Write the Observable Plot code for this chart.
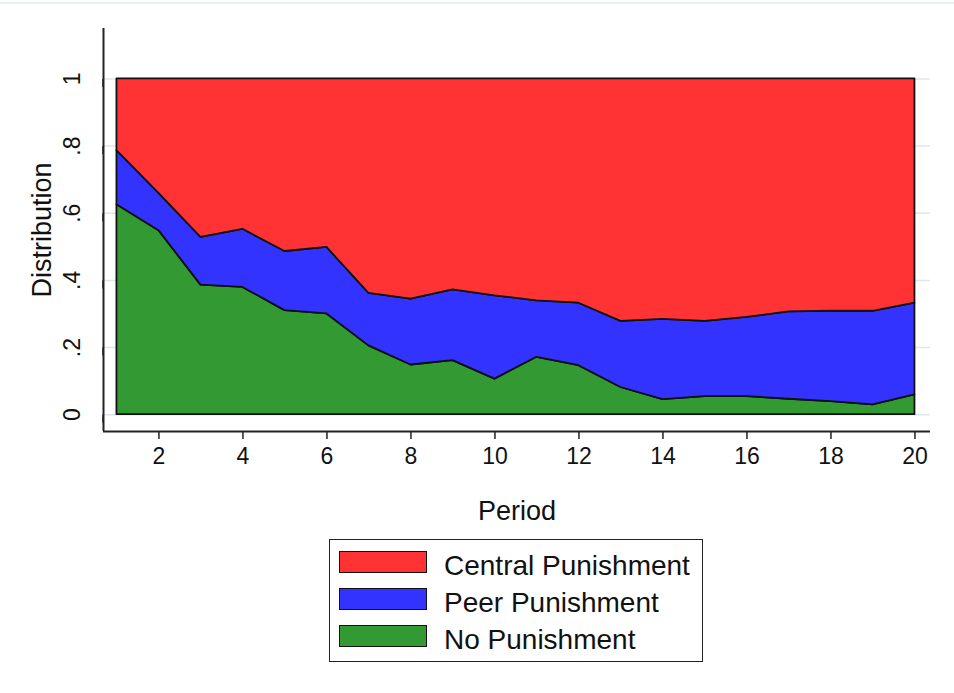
<!DOCTYPE html>
<html>
<head>
<meta charset="utf-8">
<script src="https://cdn.jsdelivr.net/npm/d3@7"></script>
<script src="https://cdn.jsdelivr.net/npm/@observablehq/plot@0.6"></script>
<style>
  body { margin: 0; background: #fff; font-family: "Liberation Sans", Arial, sans-serif; }
  #wrap { position: relative; width: 954px; height: 693px; }
  #topline { position: absolute; left: 0; top: 2px; width: 954px; height: 2px; background: #e9eff4; }
  #chart { position: absolute; left: 0; top: 0; }
  #legend { position: absolute; left: 329px; top: 539px; width: 372px; height: 121px; border: 1.5px solid #222; }
  .sw { position: absolute; left: 9px; width: 86px; height: 20px; border: 1.5px solid #111; }
  .lab { position: absolute; left: 114px; font-size: 28px; color: #111; line-height: 23px; }
</style>
</head>
<body>
<div id="wrap">
  <div id="topline"></div>
  <div id="chart"></div>
  <div id="legend"></div>
</div>
<script>
var periods = [1, 2, 3, 4, 5, 6, 7, 8, 9, 10, 11, 12, 13, 14, 15, 16, 17, 18, 19, 20];
var noPun = [0.625, 0.548, 0.386, 0.379, 0.310, 0.300, 0.205, 0.148, 0.161, 0.106,
             0.171, 0.146, 0.081, 0.045, 0.054, 0.054, 0.046, 0.039, 0.029, 0.059];
var peerPun = [0.161, 0.111, 0.142, 0.173, 0.176, 0.198, 0.156, 0.196, 0.211, 0.248,
               0.168, 0.186, 0.197, 0.239, 0.224, 0.236, 0.260, 0.269, 0.279, 0.273];
var centralPun = [0.214, 0.341, 0.472, 0.448, 0.514, 0.502, 0.639, 0.656, 0.628, 0.646,
                  0.661, 0.668, 0.722, 0.716, 0.722, 0.710, 0.694, 0.692, 0.692, 0.668];

var seriesNames = ["Central Punishment", "Peer Punishment", "No Punishment"];
var seriesColors = ["#ff3333", "#3333ff", "#339933"];
var xTicks = [2, 4, 6, 8, 10, 12, 14, 16, 18, 20];
var yTicks = [0, 0.2, 0.4, 0.6, 0.8, 1];
var yTickLabels = ["0", ".2", ".4", ".6", ".8", "1"];
var xDomain = [0.68, 20.37];
var yDomain = [-0.05, 1.15];

// long table for the stacked areas
var rows = [];
periods.forEach(function (p, i) {
  rows.push({ period: p, series: "No Punishment", value: noPun[i] });
  rows.push({ period: p, series: "Peer Punishment", value: peerPun[i] });
  rows.push({ period: p, series: "Central Punishment", value: centralPun[i] });
});

var options = {
  width: 954,
  height: 530,
  marginLeft: 103,
  marginRight: 24,
  marginTop: 28,
  marginBottom: 99,
  style: {
    background: "transparent",
    fontFamily: "'Liberation Sans', Arial, sans-serif",
    fontSize: "23px",
    color: "#111",
    overflow: "visible"
  },
  x: { domain: xDomain },
  y: { domain: yDomain },
  color: { domain: seriesNames, range: seriesColors },
  marks: [
    Plot.gridY(yTicks, { stroke: "#dde6ee", strokeOpacity: 1, strokeWidth: 1.5 }),
    Plot.areaY(rows, {
      x: "period",
      y: "value",
      fill: "series",
      stroke: "#111",
      strokeWidth: 1.8,
      order: ["No Punishment", "Peer Punishment", "Central Punishment"]
    }),
    // axis lines
    Plot.ruleX([xDomain[0]], { stroke: "#222", strokeWidth: 2 }),
    Plot.ruleY([yDomain[0]], { stroke: "#222", strokeWidth: 2 }),
    Plot.axisX(xTicks, { tickSize: 8, tickPadding: 8, label: null, stroke: "#222", strokeWidth: 1.5, fontSize: 23 }),
    Plot.axisY(yTicks, {
      tickSize: 8,
      tickPadding: 23,
      rotate: -90,
      textAnchor: "middle",
      label: null,
      stroke: "#222",
      strokeWidth: 1.5,
      fontSize: 23,
      tickFormat: function (d) { return yTickLabels[yTicks.indexOf(d)]; }
    }),
    Plot.text(["Period"], { frameAnchor: "bottom", lineAnchor: "middle", dy: 80, fontSize: 27, fill: "#111" }),
    Plot.text(["Distribution"], { frameAnchor: "left", textAnchor: "middle", lineAnchor: "middle", dx: -61, rotate: -90, fontSize: 27, fill: "#111" })
  ]
};

document.getElementById("chart").append(Plot.plot(options));

// legend box below the plot
var legend = document.getElementById("legend");
seriesNames.forEach(function (name, i) {
  var sw = document.createElement("div");
  sw.className = "sw";
  sw.style.top = (11 + i * 37) + "px";
  sw.style.background = seriesColors[i];
  legend.appendChild(sw);
  var lab = document.createElement("div");
  lab.className = "lab";
  lab.style.top = (14 + i * 37) + "px";
  lab.textContent = name;
  legend.appendChild(lab);
});
</script>
</body>
</html>
